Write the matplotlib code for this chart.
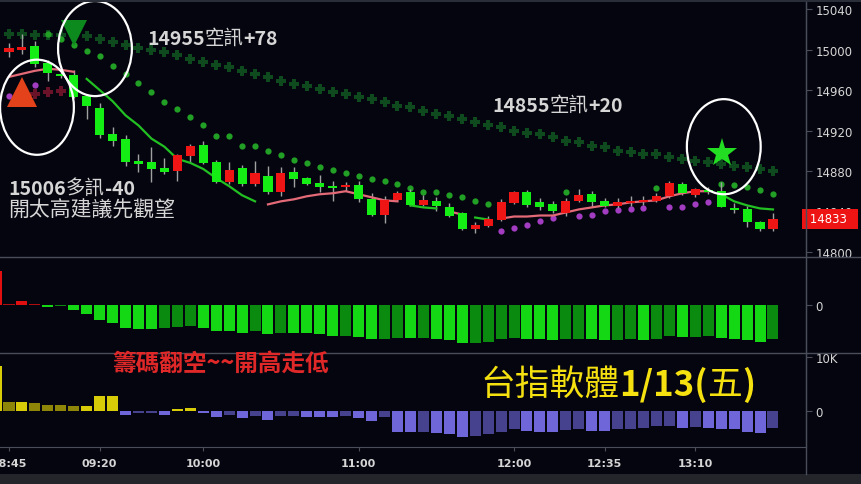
import matplotlib.pyplot as plt
import numpy as np
from matplotlib.patches import Ellipse, Rectangle
from matplotlib.lines import Line2D

plt.rcParams['font.family'] = ['Noto Sans CJK TC', 'DejaVu Sans']

# 5 minute bars 08:45 .. 13:40
tick_bars = [0, 7, 15, 27, 39, 46, 53]
tick_labels = ['08:45', '09:20', '10:00', '11:00', '12:00', '12:35', '13:10']

opens = [14998, 15000, 15004, 14987, 14976, 14975, 14954, 14942, 14917, 14912,
         14890, 14889, 14883, 14880, 14895, 14906, 14889, 14869, 14883, 14867,
         14875, 14859, 14879, 14873, 14868, 14865, 14864, 14866, 14852, 14837,
         14851, 14859, 14846, 14850, 14844, 14838, 14823, 14826, 14832, 14848,
         14859, 14849, 14847, 14838, 14850, 14857, 14850, 14845, 14848, 14849,
         14850, 14855, 14867, 14856, 14861, 14860, 14843, 14842, 14830, 14823]
highs = [15006, 15015, 15008, 14990, 14978, 14980, 14956, 14947, 14923, 14916,
         14897, 14904, 14893, 14897, 14907, 14910, 14891, 14889, 14886, 14890,
         14885, 14884, 14884, 14874, 14876, 14870, 14869, 14870, 14858, 14855,
         14860, 14862, 14856, 14854, 14848, 14839, 14830, 14836, 14852, 14860,
         14861, 14853, 14850, 14853, 14862, 14860, 14853, 14853, 14855, 14855,
         14858, 14870, 14869, 14863, 14864, 14869, 14848, 14845, 14831, 14838]
lows = [14993, 14996, 14983, 14969, 14972, 14952, 14931, 14913, 14905, 14885,
        14879, 14869, 14877, 14870, 14889, 14887, 14868, 14867, 14865, 14865,
        14857, 14855, 14864, 14866, 14859, 14850, 14860, 14849, 14836, 14829,
        14850, 14845, 14845, 14840, 14835, 14822, 14819, 14825, 14831, 14847,
        14844, 14841, 14838, 14836, 14849, 14844, 14844, 14843, 14845, 14846,
        14849, 14853, 14856, 14854, 14857, 14844, 14838, 14825, 14821, 14821]
closes = [15002, 15003, 14986, 14977, 14974, 14953, 14944, 14916, 14910, 14889,
          14887, 14882, 14879, 14896, 14905, 14888, 14869, 14881, 14867, 14878,
          14859, 14878, 14872, 14867, 14864, 14863, 14866, 14852, 14837, 14851,
          14858, 14846, 14851, 14845, 14836, 14823, 14827, 14833, 14849, 14859,
          14846, 14844, 14840, 14850, 14856, 14849, 14845, 14849, 14850, 14851,
          14855, 14868, 14858, 14862, 14859, 14844, 14841, 14830, 14823, 14833]

# moving average and its trend state (1 up / -1 down)
ma = [14973, 14976, 14979, 14981, 14980, 14978, 14971, 14960, 14949, 14935,
      14925, 14912, 14904, 14892, 14888, 14882, 14873, 14865, 14856, 14850,
      14847, 14850, 14852, 14855, 14857, 14858, 14860, 14857, 14854, 14851,
      14850, 14846, 14844, 14843, 14840, 14837, 14834, 14832, 14833, 14835,
      14835, 14836, 14836, 14839, 14842, 14844, 14846, 14847, 14849, 14850,
      14851, 14855, 14858, 14860, 14860, 14857, 14850, 14846, 14843, 14842]
ma_trend = [1] * 6 + [-1] * 14 + [1] * 11 + [-1] * 3 + [1] * 2 + [-1] * 2 + [1] * 17 + [-1] * 5

# parabolic stop dots
sar = [14954, 14960, 14965, 15015, 15010, 15005, 14999, 14994, 14984, 14976,
       14967, 14958, 14948, 14941, 14933, 14925, 14915, 14915, 14905, 14905,
       14900, 14896, 14891, 14888, 14884, 14881, 14878, 14875, 14872, 14870,
       14867, 14863, 14859, 14859, 14856, 14854, 14850, 14847, 14821, 14824,
       14827, 14831, 14834, 14859, 14836, 14837, 14840, 14841, 14842, 14843,
       14863, 14844, 14844, 14847, 14849, 14867, 14866, 14864, 14861, 14857]

# short stop line (+ markers)
short_stop = [15015, 15015, 15014, 15014, 15014, 15014, 15013, 15010, 15007, 15005,
              15002, 15000, 14998, 14995, 14991, 14988, 14985, 14983, 14979, 14976,
              14973, 14969, 14966, 14964, 14961, 14958, 14956, 14953, 14951, 14948,
              14944, 14943, 14939, 14936, 14934, 14931, 14928, 14925, 14923, 14920,
              14918, 14917, 14914, 14910, 14909, 14905, 14904, 14900, 14899, 14897,
              14897, 14894, 14892, 14890, 14889, 14887, 14885, 14884, 14882, 14880]
long_stop_bars = [2, 3, 4]
long_stop = [14956, 14958, 14959]

# lower panels start one bar before 08:45
chip = [3400, 130, 400, 130, -200, -100, -530, -930, -1500, -1830, -2270,
        -2370, -2400, -2270, -2200, -2100, -2270, -2600, -2620, -2770, -2600,
        -2870, -2770, -2790, -2800, -2870, -3100, -3090, -3170, -3430, -3420,
        -3330, -3340, -3330, -3430, -3530, -3770, -3760, -3670, -3430, -3270,
        -3400, -3410, -3530, -3430, -3420, -3440, -3460, -3450, -3440, -3500,
        -3370, -3100, -3170, -3160, -3100, -3330, -3350, -3530, -3670, -3430]
force = [8400, 1550, 1700, 1370, 1120, 1100, 800, 820, 2800, 2810, -800,
         -500, -490, -800, 320, 500, -430, -1250, -800, -1370, -930,
         -1680, -930, -920, -1250, -1260, -1270, -930, -1370, -1870, -1120,
         -4050, -4060, -4050, -4240, -4360, -4860, -4670, -4360, -4050, -3420,
         -3870, -4050, -4060, -3610, -3420, -3740, -3750, -3420, -3410, -3230,
         -2800, -2790, -3180, -2990, -3180, -3420, -3430, -4050, -4240, -3230]

BG = '#05050f'
LINE = '#4a4e5a'
TXT = '#d6d6d6'
W, H = 861, 485

fig = plt.figure(figsize=(8.61, 4.85), dpi=100, facecolor=BG)


def fx(px):
    return px / W


def fy(py):
    return 1 - py / H


ax = fig.add_axes([0, fy(258), fx(806), (258 - 3) / H])
ax2 = fig.add_axes([0, fy(354), fx(806), 96 / H])
ax3 = fig.add_axes([0, fy(448), fx(806), 94 / H])

n = len(closes)
x = np.arange(n)
hx = np.arange(-1, n)
for a in (ax, ax2, ax3):
    a.set_facecolor(BG)
    a.set_xlim(-0.695, 61.55)
    for s in ('top', 'left', 'bottom'):
        a.spines[s].set_visible(False)
    a.spines['right'].set_color(LINE)
    a.yaxis.tick_right()
    a.tick_params(axis='y', colors=LINE, length=4, width=0.8, labelsize=8.5,
                  labelcolor=TXT, pad=3)
    a.set_xticks([])

# ---- main panel
ax.set_ylim(14795, 15047)
ax.set_yticks(np.arange(14800, 15041, 40))
for lab in ax.get_yticklabels():
    lab.set_family('DejaVu Sans')

o = np.array(opens)
c = np.array(closes)
up = c >= o
ax.vlines(x, lows, highs, color='#a0a0a0', lw=1, zorder=3)
body = np.maximum(np.abs(c - o), 1.5)
ax.bar(x, body, bottom=np.minimum(o, c), width=0.7,
       color=np.where(up, '#f01515', '#15ee15'), zorder=4)

ax.plot(x, short_stop, 'P', color='#0f4a1e', ms=6.5, mew=0, zorder=2)
ax.plot(long_stop_bars, long_stop, 'P', color='#6a1228', ms=6.5, mew=0, zorder=2)

sar_a = np.array(sar)
above = sar_a > c
ax.plot(x[above], sar_a[above], 'o', color='#22a026', ms=4.5, mew=0, zorder=2)
ax.plot(x[~above], sar_a[~above], 'o', color='#a23cc0', ms=4.5, mew=0, zorder=2)

# MA line drawn by trend runs
start = 0
for i in range(1, n + 1):
    if i == n or ma_trend[i] != ma_trend[start]:
        col = '#e46a78' if ma_trend[start] > 0 else '#22c022'
        ax.plot(x[start:i], ma[start:i], color=col, lw=1.6, zorder=3)
        start = i

# signal markers
ax.plot(1.0, 14958, '^', color='#e4421a', ms=21, mew=0, zorder=6)
ax.plot(5.0, 15016, 'v', color='#0d8a1d', ms=19, mew=0, zorder=6)
ax.plot(55.05, 14898, '*', color='#22dd22', ms=22, mew=0, zorder=6)
for cx, cy in [(2.16, 14943), (6.64, 15001), (55.2, 14904)]:
    ax.add_patch(Ellipse((cx, cy), 5.7, 94, fill=False, ec='white', lw=1.6,
                         zorder=7, clip_on=False))

# last price tag
ax.text(1.0, 14833, ' 14833  ', transform=ax.get_yaxis_transform(), ha='left',
        va='center', color='white', fontsize=8.5, family='DejaVu Sans',
        bbox=dict(boxstyle='square,pad=0.3', fc='#ee1414', ec='none'),
        zorder=10, clip_on=False)

# ---- chip panel
ch = np.array(chip, dtype=float)
prev = np.r_[0, ch[:-1]]
grow = np.where(ch >= 0, ch > prev, ch < prev)
ccol = np.where(ch >= 0, np.where(grow, '#e01010', '#b00e0e'),
                np.where(grow, '#14d814', '#0a8a0e'))
ax2.bar(hx, ch, width=0.85, color=ccol)
ax2.set_ylim(-4800, 4800)
ax2.set_yticks([0])

# ---- force panel
fo = np.array(force, dtype=float)
prev = np.r_[0, fo[:-1]]
grow = np.where(fo >= 0, fo > prev, fo < prev)
fcol = np.where(fo >= 0, np.where(grow, '#d8cc08', '#8e8608'),
                np.where(grow, '#6f66da', '#47428e'))
ax3.bar(hx, fo, width=0.85, color=fcol)
ax3.set_ylim(-6790, 10790)
ax3.set_yticks([0, 10000])
ax3.set_yticklabels(['0', '10K'])
ax3.spines['bottom'].set_visible(True)
ax3.spines['bottom'].set_color(LINE)
ax3.set_xticks(tick_bars)
ax3.set_xticklabels(tick_labels)
ax3.tick_params(axis='x', colors=LINE, length=3, width=0.8, labelsize=8,
                labelcolor=TXT, pad=5)
for lab in ax3.get_xticklabels():
    lab.set_family('DejaVu Sans')
    lab.set_fontweight('bold')
for a in (ax2, ax3):
    for lab in a.get_yticklabels():
        lab.set_family('DejaVu Sans')

# ---- frame lines and strips
fig.add_artist(Rectangle((0, fy(3)), 1, 3 / H, transform=fig.transFigure,
                         fc='#2a2e38', ec='none'))
fig.add_artist(Rectangle((0, 0), 1, fy(475), transform=fig.transFigure,
                         fc='#23252b', ec='none'))
for py in (258, 354):
    fig.add_artist(Line2D([0, 1], [fy(py), fy(py)], color=LINE, lw=1))
fig.add_artist(Line2D([fx(806), fx(806)], [fy(475), fy(3)], color=LINE, lw=1))


# ---- annotations: latin parts bold, CJK parts regular
# chained pieces live on the last-drawn axes so no panel covers them
def rich(px, py, parts, size, color):
    t = fig.text(fx(px), fy(py), parts[0][0], fontsize=size, color=color,
                 fontweight=parts[0][1], va='bottom', ha='left', zorder=12)
    for s, w in parts[1:]:
        t = ax3.annotate(s, xy=(1, 0), xycoords=t, va='bottom', ha='left',
                         fontsize=size, color=color, fontweight=w,
                         annotation_clip=False, clip_on=False, zorder=12)


rich(147, 49, [('14955', 'bold'), ('空訊', 'normal'), ('+78', 'bold')], 14, TXT)
rich(492, 116, [('14855', 'bold'), ('空訊', 'normal'), ('+20', 'bold')], 14, TXT)
rich(8, 199, [('15006', 'bold'), ('多訊', 'normal'), ('-40', 'bold')], 14, TXT)
fig.text(fx(8), fy(211), '開太高建議先觀望', color=TXT, fontsize=15,
         va='center', ha='left')
fig.text(fx(112), fy(364), '籌碼翻空~~開高走低', color='#e02828', fontsize=17,
         fontweight='bold', va='center', ha='left')
rich(480, 403, [('台指軟體', 'normal'), ('1/13(', 'bold'), ('五', 'normal'),
                (')', 'bold')], 25, '#f5e010')

fig.savefig('out.png', dpi=100, facecolor=BG)
